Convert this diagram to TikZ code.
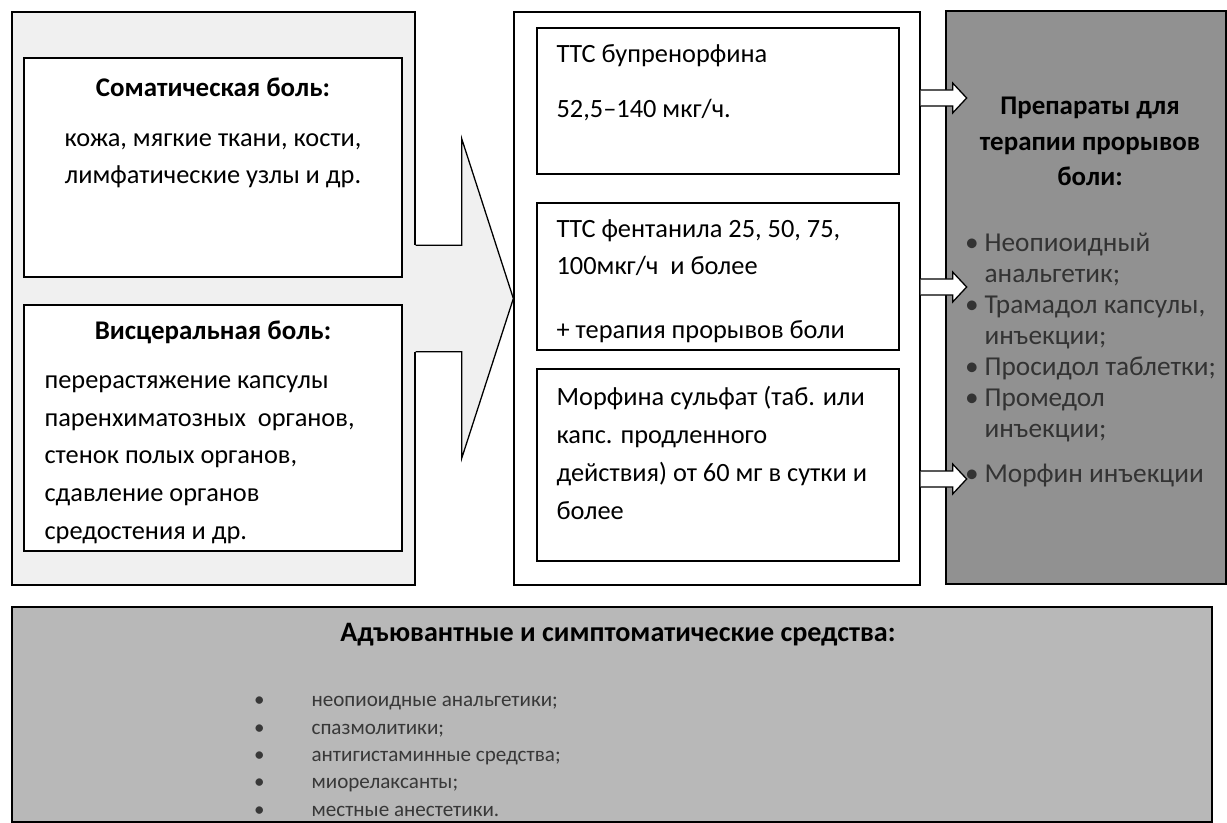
\documentclass[tikz,border=0pt]{standalone}
\usepackage{fontspec}
\setmainfont{Carlito}
\usetikzlibrary{positioning}
\newcommand{\gbul}{\llap{\textbullet\hspace{5pt}}}
\newcommand{\wbul}{\llap{\textbullet\hspace{40pt}}}

\begin{document}
\begin{tikzpicture}
    \tikzset{
      box/.style={draw, line width=1.1pt, rectangle, inner sep=0pt},
      txt/.style={inner sep=0pt, font=\fontsize{22.5}{32.2}\selectfont},
      titletxt/.style={inner sep=0pt, font=\fontsize{23}{30.3}\selectfont\bfseries},
      pics/fatarrow/.style={
          code={
              \draw[line width=1.1pt, fill=white] (0,0.24) -- (0.96,0.24) -- (0.96,0.45) -- (1.38,0) -- (0.96,-0.45) -- (0.96,-0.24) -- (0,-0.24);
            }
        }
    }
    \useasboundingbox (0,0) rectangle (36.81,-24.69);

    \node[box, fill=black!6, minimum width=12.09cm, minimum height=17.19cm] (leftgroup) at (6.405, -8.955) {};
    \node[box, fill=white, minimum width=12.18cm, minimum height=17.19cm] (midgroup) at (21.51, -8.955) {};
    \node[box, fill=black!43, minimum width=8.4cm, minimum height=17.19cm] (breakthrough) at (32.58, -8.925) {};
    \node[box, fill=black!28, minimum width=36cm, minimum height=6.45cm] (adjuvant) at (18.36, -21.435) {};

    \path (leftgroup.east) ++(1.38,0) coordinate (chevneck);
    \fill[black!6] ([xshift=-1.2pt, yshift=1.6cm]leftgroup.east) -- ([yshift=1.6cm]chevneck) -- ([yshift=4.8cm]chevneck) -- (midgroup.west) -- ([yshift=-4.8cm]chevneck) -- ([yshift=-1.6cm]chevneck) -- ([xshift=-1.2pt, yshift=-1.6cm]leftgroup.east) -- cycle;
    \draw[line width=1.1pt] ([yshift=1.6cm]leftgroup.east) -- ([yshift=1.6cm]chevneck) -- ([yshift=4.8cm]chevneck) -- (midgroup.west) -- ([yshift=-4.8cm]chevneck) -- ([yshift=-1.6cm]chevneck) -- ([yshift=-1.6cm]leftgroup.east);

    \node[box, fill=white, minimum width=11.34cm, minimum height=6.57cm] (somatic) at (6.39, -5.025) {};
    \node[box, fill=white, minimum width=11.34cm, minimum height=7.38cm] (visceral) at (6.39, -12.84) {};
    \node[titletxt] at ([yshift=-0.9cm]somatic.north) {Соматическая боль:};
    \node[txt, align=center] at ([yshift=-3.105cm]somatic.north) {кожа, мягкие ткани, кости,\\лимфатические узлы и др.};
    \node[titletxt] at ([yshift=-0.84cm]visceral.north) {Висцеральная боль:};
    \node[txt, align=left, anchor=west] at ([xshift=0.63cm, yshift=-0.95cm]visceral.west) {перерастяжение капсулы\\паренхиматозных\ \ органов,\\стенок полых органов,\\сдавление органов\\средостения и др.};

    \node[box, fill=white, minimum width=10.86cm, minimum height=4.38cm] (buprenorphine) at (21.54, -3.03) {};
    \node[box, fill=white, minimum width=10.86cm, minimum height=4.41cm] (fentanyl) at (21.54, -8.295) {};
    \node[box, fill=white, minimum width=10.86cm, minimum height=5.76cm] (morphine) at (21.54, -13.95) {};
    \node[txt, align=left, anchor=west] at ([xshift=0.6cm, yshift=0.555cm]buprenorphine.west) {ТТС бупренорфина\\[15pt]52,5–140 мкг/ч.};
    \node[txt, align=left, anchor=west] at ([xshift=0.6cm, yshift=-0.135cm]fentanyl.west) {ТТС фентанила 25, 50, 75,\\100мкг/ч\ \ и более\\[22pt]+ терапия прорывов боли};
    \node[txt, align=left, anchor=west] at ([xshift=0.6cm, yshift=0.36cm]morphine.west) {Морфина сульфат (таб. или\\капс. продленного\\действия) от 60 мг в сутки и\\более};

    \node[titletxt, align=center] at ([xshift=0.12cm, yshift=-3.945cm]breakthrough.north) {Препараты для\\терапии прорывов\\боли:};
    \node[txt, font=\fontsize{23.3}{26.5}\selectfont, align=left, anchor=west, text=black!80] at ([xshift=1.17cm, yshift=-1.875cm]breakthrough.west) {\gbul Неопиоидный\\анальгетик;\\\gbul Трамадол капсулы,\\инъекции;\\\gbul Просидол таблетки;\\\gbul Промедол\\инъекции;\\[12pt]\gbul Морфин инъекции};

    \pic[yshift=0.09cm] at (midgroup.east |- buprenorphine.east) {fatarrow};
    \pic[yshift=-0.315cm] at (midgroup.east |- fentanyl.east) {fatarrow};
    \pic[yshift=-0.42cm] at (midgroup.east |- morphine.east) {fatarrow};

    \node[titletxt, font=\fontsize{24}{30}\selectfont\bfseries] at ([xshift=0.18cm, yshift=-0.84cm]adjuvant.north) {Адъювантные и симптоматические средства:};
    \node[txt, font=\fontsize{18}{23.3}\selectfont, align=left, anchor=west, text=black!78] at ([xshift=9cm, yshift=-1.26cm]adjuvant.west) {\wbul неопиоидные анальгетики;\\\wbul спазмолитики;\\\wbul антигистаминные средства;\\\wbul миорелаксанты;\\\wbul местные анестетики.};
\end{tikzpicture}
\end{document}
